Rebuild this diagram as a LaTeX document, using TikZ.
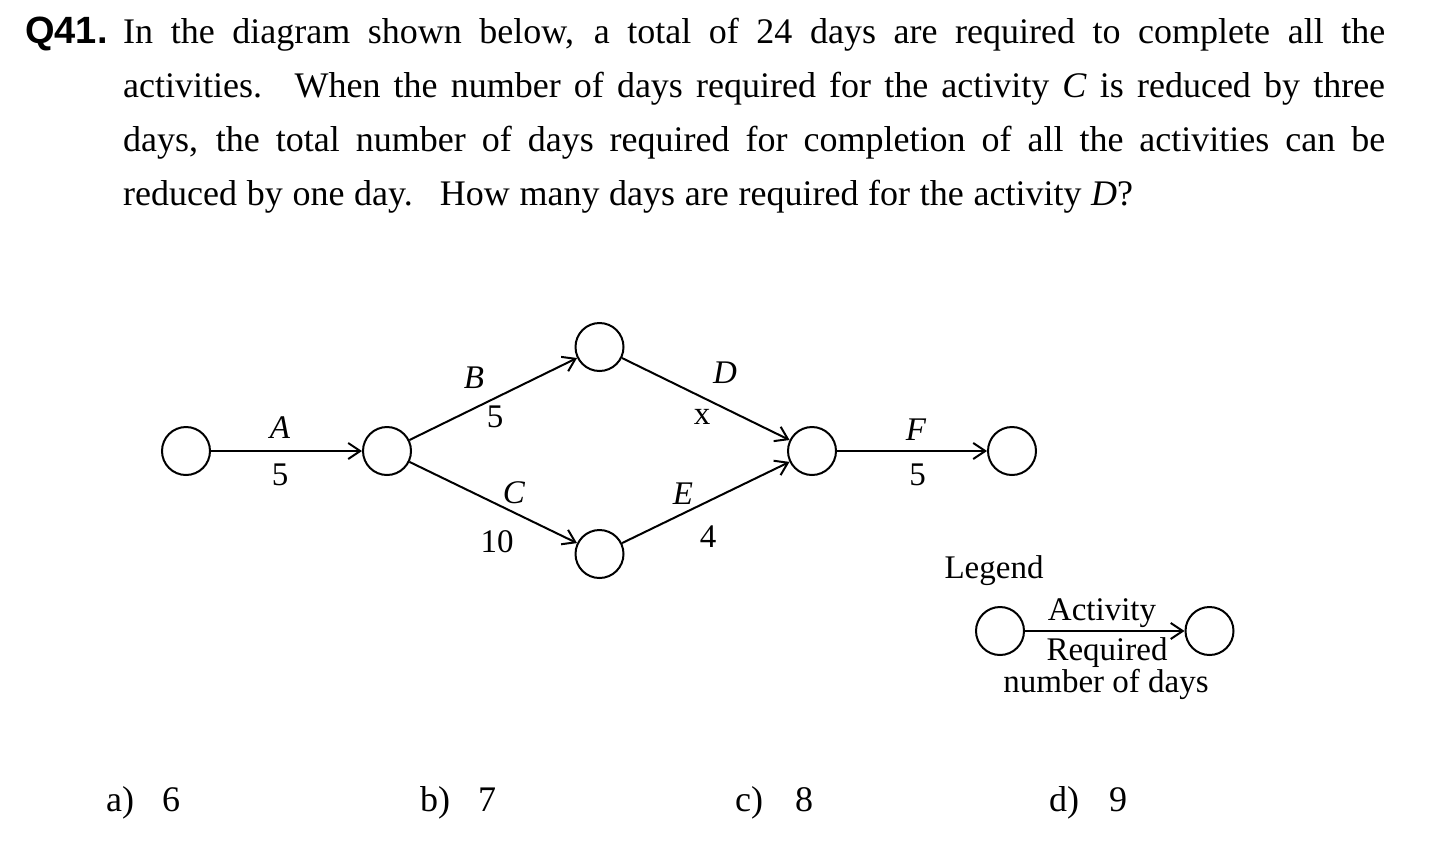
\documentclass[tikz,border=0pt]{standalone}
\usepackage{fontspec}
\setmainfont{Liberation Serif}
\newfontfamily\qfont{Liberation Sans}
\usetikzlibrary{arrows.meta}
\tikzset{
  ev/.style={circle,draw,line width=2pt,minimum size=48pt,inner sep=0pt},
  act/.style={line width=2pt,-{Straight Barb[length=12pt,width=16pt,line width=2pt]}},
  lbl/.style={font=\fontsize{33}{38}\selectfont,inner sep=0pt,anchor=base},
  txt/.style={font=\fontsize{36}{42}\selectfont,inner sep=0pt,anchor=base west},
}
\begin{document}
\begin{tikzpicture}[x=1pt,y=-1pt]
\useasboundingbox (0,0) rectangle (1450,849);
% question text
\node[txt,font=\fontsize{38}{42}\qfont\bfseries] (q) at (25,43.5) {Q41.};
\node[txt] (l1) at (123,43.5) {\makebox[1262pt][s]{In the diagram shown below, a total of 24 days are required to complete all the}};
\node[txt] (l2) at (123,97.5) {\makebox[1262pt][s]{activities.\hspace{0.9em}When the number of days required for the activity \textit{C} is reduced by three}};
\node[txt] (l3) at (123,151) {\makebox[1262pt][s]{days, the total number of days required for completion of all the activities can be}};
\node[txt] (l4) at (123,205) {\makebox[1010pt][s]{reduced by one day.\hspace{0.75em}How many days are required for the activity \textit{D}?}};
% network
\node[ev] (n1) at (186,451) {};
\node[ev] (n2) at (387,451) {};
\node[ev] (n3) at (599.5,347) {};
\node[ev] (n4) at (599.5,554) {};
\node[ev] (n5) at (812,451) {};
\node[ev] (n6) at (1012,451) {};
\draw[act] (n1) -- (n2);
\draw[act] (n2) -- (n3);
\draw[act] (n2) -- (n4);
\draw[act] (n3) -- (n5);
\draw[act] (n4) -- (n5);
\draw[act] (n5) -- (n6);
\node[lbl] (la) at (280,438) {\textit{A}};
\node[lbl] (da) at (280,485) {5};
\node[lbl] (lb) at (474,388) {\textit{B}};
\node[lbl] (db) at (495,427) {5};
\node[lbl] (lc) at (514,503) {\textit{C}};
\node[lbl] (dc) at (497,552) {10};
\node[lbl] (ld) at (725,383) {\textit{D}};
\node[lbl] (dd) at (702,424) {x};
\node[lbl] (le) at (683,504) {\textit{E}};
\node[lbl] (de) at (708,547) {4};
\node[lbl] (lf) at (916,440) {\textit{F}};
\node[lbl] (df) at (917.5,485) {5};
% legend
\node[lbl] (leg) at (994,578) {Legend};
\node[ev] (g1) at (1000,631) {};
\node[ev] (g2) at (1209.5,631) {};
\draw[act] (g1) -- (g2);
\node[lbl] (ga) at (1102,620) {Activity};
\node[lbl] (gr) at (1107,660) {Required};
\node[lbl] (gn) at (1106,692) {number of days};
% answers
\node[txt] (aa) at (106,811) {a)};
\node[txt] (av) at (162,811) {6};
\node[txt] (ba) at (420,811) {b)};
\node[txt] (bv) at (478,811) {7};
\node[txt] (ca) at (735,811) {c)};
\node[txt] (cv) at (795,811) {8};
\node[txt] (dda) at (1049,811) {d)};
\node[txt] (dv) at (1109,811) {9};
\end{tikzpicture}
\end{document}
